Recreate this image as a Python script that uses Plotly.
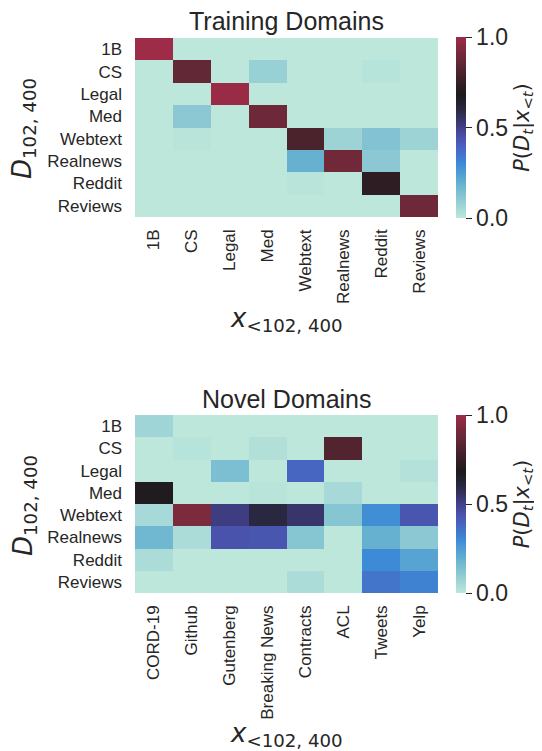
import plotly.graph_objects as go

rows = ["1B", "CS", "Legal", "Med", "Webtext", "Realnews", "Reddit", "Reviews"]
train_cols = ["1B", "CS", "Legal", "Med", "Webtext", "Realnews", "Reddit", "Reviews"]
novel_cols = ["CORD-19", "Github", "Gutenberg", "Breaking News", "Contracts", "ACL", "Tweets", "Yelp"]

train_z = [
    [1.00, 0.00, 0.00, 0.00, 0.00, 0.00, 0.00, 0.00],
    [0.00, 0.86, 0.00, 0.08, 0.00, 0.00, 0.015, 0.00],
    [0.00, 0.00, 0.99, 0.00, 0.00, 0.00, 0.00, 0.00],
    [0.00, 0.11, 0.00, 0.89, 0.00, 0.00, 0.00, 0.00],
    [0.00, 0.01, 0.00, 0.00, 0.80, 0.07, 0.13, 0.07],
    [0.00, 0.00, 0.00, 0.00, 0.19, 0.90, 0.11, 0.00],
    [0.00, 0.00, 0.00, 0.00, 0.01, 0.00, 0.73, 0.00],
    [0.00, 0.00, 0.00, 0.00, 0.00, 0.00, 0.00, 0.89],
]

novel_z = [
    [0.065, 0.00, 0.00, 0.00, 0.00, 0.00, 0.00, 0.00],
    [0.00, 0.015, 0.00, 0.025, 0.00, 0.82, 0.00, 0.00],
    [0.00, 0.00, 0.14, 0.00, 0.385, 0.00, 0.00, 0.02],
    [0.69, 0.00, 0.00, 0.01, 0.00, 0.05, 0.00, 0.00],
    [0.05, 0.93, 0.51, 0.60, 0.54, 0.12, 0.29, 0.43],
    [0.17, 0.04, 0.44, 0.43, 0.12, 0.00, 0.19, 0.11],
    [0.04, 0.00, 0.00, 0.00, 0.00, 0.00, 0.30, 0.23],
    [0.00, 0.00, 0.00, 0.00, 0.04, 0.00, 0.35, 0.32],
]

colorscale = [
    [0.00, "#bde7db"],
    [0.10, "#8fcbd3"],
    [0.20, "#62aed0"],
    [0.30, "#3d8ad6"],
    [0.38, "#4668c4"],
    [0.45, "#4a4fa8"],
    [0.52, "#3d3a7a"],
    [0.60, "#2a2840"],
    [0.68, "#1c1b1e"],
    [0.76, "#3a1f27"],
    [0.86, "#622835"],
    [0.93, "#7c2a3e"],
    [1.00, "#9e2b48"],
]

OFF = 8  # default page margin of the browser body
W, H = 542 - OFF, 751 - OFF
TXT = "#262626"
SANS = "Arial, Liberation Sans, sans-serif"
MATH = "DejaVu Sans, sans-serif"

def px_x(p):
    return (p - OFF) / W

def px_y(p):
    return 1 - (p - OFF) / H

x_dom = [px_x(135), px_x(438)]
top_dom = [px_y(217), px_y(38)]
bot_dom = [px_y(593), px_y(415)]

cb_title = "<i>P</i>(<i>D</i><sub><i>t</i></sub>|<i>x</i><sub>&lt;<i>t</i></sub>)"

def cbar(center_px, len_px):
    return dict(
        x=px_x(456), xanchor="left", xpad=0, ypad=0,
        y=px_y(center_px), yanchor="middle",
        len=len_px / H, lenmode="fraction",
        thickness=10, outlinewidth=0,
        tickmode="array", tickvals=[0, 0.5, 1.0], ticktext=["0.0", "0.5", "1.0"],
        ticks="outside", ticklen=6, tickwidth=1.3, tickcolor=TXT,
        tickfont=dict(family=SANS, size=23, color=TXT),
        title=dict(text=cb_title, side="right", font=dict(family=MATH, size=21, color=TXT)),
    )

fig = go.Figure()
fig.add_trace(go.Heatmap(
    z=train_z, x=train_cols, y=rows, xaxis="x", yaxis="y",
    colorscale=colorscale, zmin=0, zmax=1,
    colorbar=cbar(127.5, 181),
))
fig.add_trace(go.Heatmap(
    z=novel_z, x=novel_cols, y=rows, xaxis="x2", yaxis="y2",
    colorscale=colorscale, zmin=0, zmax=1,
    colorbar=cbar(504, 178),
))

ax_common = dict(showgrid=False, zeroline=False, showline=False, ticks="",
                 tickfont=dict(family=SANS, size=17, color=TXT))

fig.update_layout(
    width=W, height=H,
    margin=dict(l=0, r=0, t=0, b=0, autoexpand=False),
    paper_bgcolor="white", plot_bgcolor="white",
    xaxis=dict(domain=x_dom, anchor="y", tickangle=-90, ticklabelstandoff=8, **ax_common),
    yaxis=dict(domain=top_dom, anchor="x", autorange="reversed", ticklabelstandoff=12, **ax_common),
    xaxis2=dict(domain=x_dom, anchor="y2", tickangle=-90, ticklabelstandoff=8, **ax_common),
    yaxis2=dict(domain=bot_dom, anchor="x2", autorange="reversed", ticklabelstandoff=12, **ax_common),
)

title_font = dict(family=SANS, size=25, color=TXT)
xt = "<i>x</i><sub>&lt;102, 400</sub>"
yt = "<i>D</i><sub>102, 400</sub>"
axis_font = dict(family=MATH, size=26, color=TXT)
center_x = px_x(286.5)

annots = [
    dict(text="Training Domains", x=center_x, y=px_y(21), font=title_font),
    dict(text="Novel Domains", x=center_x, y=px_y(399), font=title_font),
    dict(text=xt, x=center_x, y=px_y(320), font=axis_font),
    dict(text=xt, x=center_x, y=px_y(734), font=axis_font),
    dict(text=yt, x=px_x(24), y=px_y(129), font=axis_font, textangle=-90),
    dict(text=yt, x=px_x(24), y=px_y(506), font=axis_font, textangle=-90),
]
for a in annots:
    fig.add_annotation(xref="paper", yref="paper", showarrow=False,
                       xanchor="center", yanchor="middle", **a)

fig.write_html("out.html")
